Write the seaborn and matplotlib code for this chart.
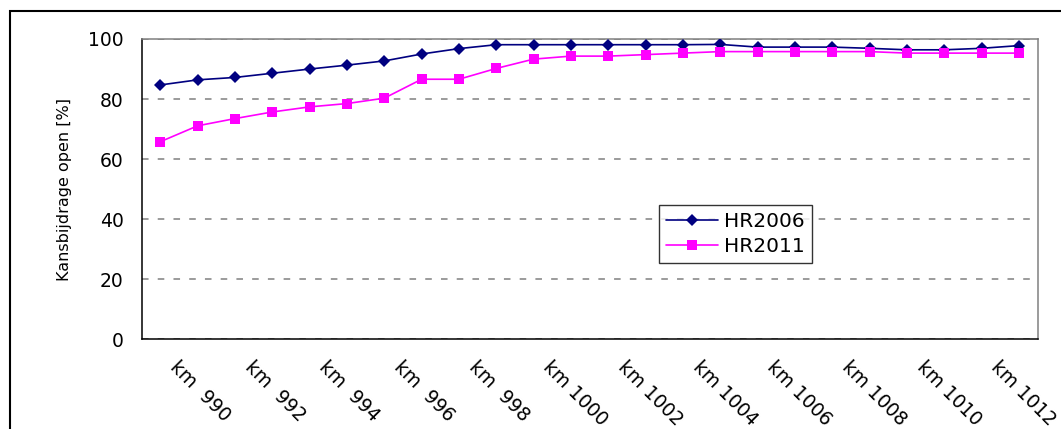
import numpy as np
import pandas as pd
import matplotlib
matplotlib.use('Agg')
import matplotlib.pyplot as plt
import matplotlib.transforms as mtransforms
from matplotlib.patches import Rectangle
import seaborn as sns

# ---- data ----
categories = ["km  990", "km  991", "km  992", "km  993", "km  994", "km  995",
              "km  996", "km  997", "km  998", "km  999", "km 1000", "km 1001",
              "km 1002", "km 1003", "km 1004", "km 1005", "km 1006", "km 1007",
              "km 1008", "km 1009", "km 1010", "km 1011", "km 1012", "km 1013"]
hr2006 = [84.7, 86.4, 87.2, 88.6, 90.0, 91.3, 92.7, 95.0, 96.8, 98.1, 98.1, 98.1,
          98.1, 98.1, 98.1, 98.2, 97.3, 97.3, 97.3, 96.9, 96.4, 96.4, 96.9, 97.8]
hr2011 = [65.8, 71.1, 73.5, 75.7, 77.4, 78.5, 80.3, 86.6, 86.6, 90.2, 93.3, 94.3,
          94.3, 94.8, 95.3, 95.8, 95.8, 95.8, 95.8, 95.8, 95.3, 95.3, 95.3, 95.3]
series_names = ["HR2006", "HR2011"]
y_ticks = [0, 20, 40, 60, 80, 100]
y_label = "Kansbijdrage open [%]"

n = len(categories)
df = pd.DataFrame({
    "pos": list(range(n)) * 2,
    "km": categories * 2,
    "value": hr2006 + hr2011,
    "serie": [series_names[0]] * n + [series_names[1]] * n,
})

sns.set_style("white")
plt.rcParams["font.family"] = ["DejaVu Sans"]
plt.rcParams["text.color"] = "black"
plt.rcParams["axes.labelcolor"] = "black"
plt.rcParams["xtick.color"] = "black"
plt.rcParams["ytick.color"] = "black"

W, H = 1061, 429
fig = plt.figure(figsize=(W / 100, H / 100), dpi=100)
L, R, T, B = 141.7, 1037.5, 39.0, 339.3
ax = fig.add_axes([L / W, 1 - B / H, (R - L) / W, (B - T) / H])

sns.lineplot(data=df, x="pos", y="value", hue="serie", style="serie",
             markers={"HR2006": "D", "HR2011": "s"}, dashes=False,
             palette={"HR2006": "#000080", "HR2011": "#FF00FF"},
             linewidth=1.2, markersize=7.0, markeredgewidth=0,
             legend=False, ax=ax, zorder=3)
for ln in ax.lines:
    if ln.get_marker() == "D":
        ln.set_markersize(6.0)

ax.set_xlim(-0.5, n - 0.5)
ax.set_ylim(0, 100)
ax.set_yticks(y_ticks)
ax.set_yticklabels([str(v) for v in y_ticks])
ax.set_xlabel("")

# x ticks at category boundaries, labels every second category
ax.set_xticks(np.arange(-0.5, n, 1.0))
ax.set_xticklabels([])
ax.set_xticks(range(0, n, 2), [categories[i] for i in range(0, n, 2)], minor=True)
ax.tick_params(axis="x", which="major", direction="out", length=3.6, width=1.0,
               color="black")
ax.tick_params(axis="x", which="minor", length=0, pad=13, labelsize=13.5,
               labelcolor="black")
offset = mtransforms.ScaledTranslation(6 / 100, 0, fig.dpi_scale_trans)
for lab in ax.get_xticklabels(minor=True):
    lab.set_rotation(-45)
    lab.set_ha("left")
    lab.set_va("top")
    lab.set_transform(lab.get_transform() + offset)

ax.tick_params(axis="y", direction="out", length=6, width=1.0, color="black",
               labelsize=13.5, pad=7, labelcolor="black")

ax.yaxis.grid(True, linestyle=(0, (4.3, 6.0)), color="#808080", linewidth=1.1)
ax.xaxis.grid(False)
ax.set_axisbelow(True)

for side in ["left", "bottom"]:
    ax.spines[side].set_color("black")
    ax.spines[side].set_linewidth(1.1)
for side in ["top", "right"]:
    ax.spines[side].set_color("#808080")
    ax.spines[side].set_linewidth(1.1)

ax.set_ylabel(y_label, fontsize=11.5, color="black")
ax.yaxis.set_label_coords((72 - L) / (R - L), 0.5)

leg = ax.legend(ax.lines[:2], series_names, loc="upper left",
                bbox_to_anchor=(659 / W, 1 - 205 / H), bbox_transform=fig.transFigure,
                borderaxespad=0, fontsize=14.5, frameon=True, fancybox=False,
                edgecolor="black", handlelength=2.6, handletextpad=0.3,
                labelspacing=0.3, borderpad=0.35)
leg.get_frame().set_linewidth(1.0)
for t in leg.get_texts():
    t.set_color("black")

# outer chart border (cut off at right and bottom)
fig.patches.append(Rectangle((10 / W, -0.2), 1.5, 1.2 - 11 / H, transform=fig.transFigure,
                             fill=False, edgecolor="black", linewidth=1.5,
                             figure=fig))

fig.savefig("out.png", dpi=100)
